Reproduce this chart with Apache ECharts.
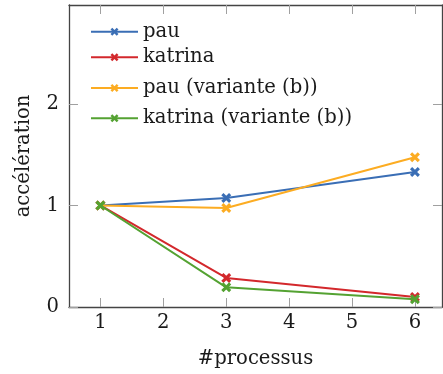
<!DOCTYPE html>
<html><head><meta charset="utf-8">
<script src="https://cdn.jsdelivr.net/npm/echarts@6/dist/echarts.min.js"></script>
<style>html,body{margin:0;padding:0;background:#fff}#c{width:443px;height:374px}</style>
</head><body><div id="c"></div>
<script>
const processes = [1, 3, 6];
const pau = [1, 1.074, 1.33];
const katrina = [1, 0.286, 0.099];
const pauB = [1, 0.975, 1.475];
const katrinaB = [1, 0.194, 0.076];
const seriesNames = ['pau', 'katrina', 'pau (variante (b))', 'katrina (variante (b))'];
const colors = ['#3a6eb5', '#d3282c', '#fcac22', '#54a232'];
const xTicks = [1, 2, 3, 4, 5, 6];
const yTicks = [0, 1, 2];

const FONT = 'DejaVu Serif';
const TXT = '#1a1a1a';
const cross = 'path://M3.6,0H6.4V3.6H10V6.4H6.4V10H3.6V6.4H0V3.6H3.6Z';
const values = [pau, katrina, pauB, katrinaB];
const legendCenters = [31.7, 57.3, 88, 118.3];

const series = values.map((v, i) => ({
  name: seriesNames[i], type: 'line',
  data: processes.map((p, j) => [p, v[j]]),
  symbol: cross, symbolRotate: 45, symbolSize: 11,
  showAllSymbol: true,
  lineStyle: { color: colors[i], width: 2 },
  itemStyle: { color: colors[i] },
  z: 2 + i
}));

const tickStyle = { show: true, inside: true, length: 9, lineStyle: { color: '#a0a0a0', width: 1 } };
const spine = { show: true, onZero: false, lineStyle: { color: '#444', width: 1.3 } };

const option = {
  animation: false,
  grid: { left: 69, right: 1, top: 5, bottom: 67 },
  legend: seriesNames.map((n, i) => ({
    data: [n], left: 90, top: legendCenters[i] - 10, padding: 0,
    itemWidth: 47, itemHeight: 11, itemGap: 0,
    textStyle: { fontFamily: FONT, fontSize: 19.6, color: TXT, lineHeight: 20 },
    selectedMode: false
  })),
  xAxis: [{
    type: 'value', min: 0.5, max: 6.43, position: 'bottom',
    name: '#processus', nameLocation: 'middle', nameGap: 42,
    nameTextStyle: { fontFamily: FONT, fontSize: 19.6, color: TXT },
    axisLine: spine, axisTick: Object.assign({ customValues: xTicks }, tickStyle),
    axisLabel: { customValues: xTicks, fontFamily: FONT, fontSize: 19.6, color: TXT, margin: 6 },
    splitLine: { show: false }
  }, {
    type: 'value', min: 0.5, max: 6.43, position: 'top',
    axisLine: spine, axisTick: Object.assign({ customValues: xTicks }, tickStyle),
    axisLabel: { show: false }, splitLine: { show: false }
  }],
  yAxis: [{
    type: 'value', min: 0, max: 2.975, position: 'left',
    name: 'accélération', nameLocation: 'middle', nameGap: 35, nameRotate: 90,
    nameTextStyle: { fontFamily: FONT, fontSize: 19.6, color: TXT },
    axisLine: spine, axisTick: Object.assign({ customValues: yTicks }, tickStyle),
    axisLabel: { customValues: yTicks, fontFamily: FONT, fontSize: 19.6, color: TXT, margin: 10 },
    splitLine: { show: false }
  }, {
    type: 'value', min: 0, max: 2.975, position: 'right',
    axisLine: spine, axisTick: Object.assign({ customValues: yTicks }, tickStyle),
    axisLabel: { show: false }, splitLine: { show: false }
  }],
  series: series
};
echarts.init(document.getElementById('c'), null, { renderer: 'canvas' }).setOption(option);
</script></body></html>
